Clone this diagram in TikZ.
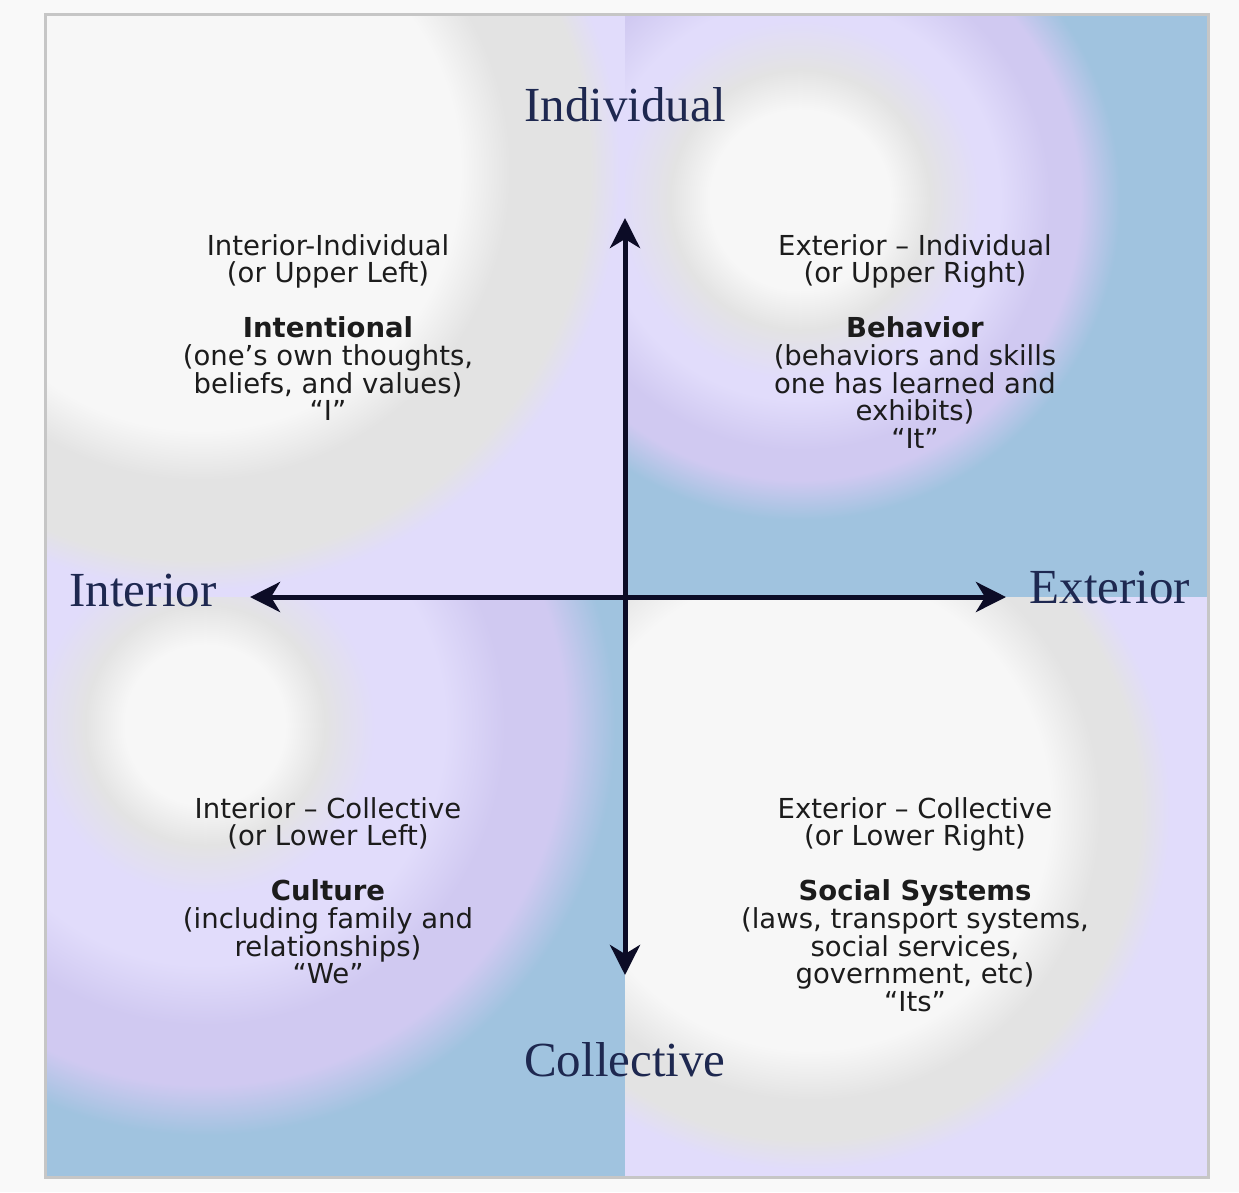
\documentclass[tikz,border=0pt]{standalone}
\usepackage{fontspec}
\setmainfont{Liberation Serif}
\newfontfamily\qfont{DejaVu Sans}
\usetikzlibrary{arrows.meta}

\definecolor{pagebg}{HTML}{F9F9F9}
\definecolor{qwhite}{HTML}{F7F7F7}
\definecolor{qgrey}{HTML}{E3E3E3}
\definecolor{qlav}{HTML}{E1DCFB}
\definecolor{qlavd}{HTML}{D0C9F1}
\definecolor{qblue}{HTML}{A0C3DF}
\definecolor{framecol}{HTML}{C6C6C6}
\definecolor{axiscol}{HTML}{0C0C26}
\definecolor{labelcol}{HTML}{1E2850}
\definecolor{txtcol}{HTML}{1C1C1C}

% shaded circles of radius 500pt: 1bp of shading = 20px
\pgfdeclareradialshading{shUL}{\pgfpointorigin}{color(0bp)=(qwhite); color(13bp)=(qwhite); color(15.5bp)=(qgrey); color(19.5bp)=(qgrey); color(21bp)=(qlav); color(50bp)=(qlav)}
\pgfdeclareradialshading{shUR}{\pgfpointorigin}{color(0bp)=(qwhite); color(4.5bp)=(qwhite); color(6.5bp)=(qgrey); color(9bp)=(qlav); color(10bp)=(qlav); color(12.5bp)=(qlavd); color(14bp)=(qlavd); color(16bp)=(qblue); color(50bp)=(qblue)}
\pgfdeclareradialshading{shLL}{\pgfpointorigin}{color(0bp)=(qwhite); color(4bp)=(qwhite); color(6bp)=(qgrey); color(8.5bp)=(qlav); color(12bp)=(qlav); color(15bp)=(qlavd); color(18bp)=(qlavd); color(20.5bp)=(qblue); color(50bp)=(qblue)}
\pgfdeclareradialshading{shLR}{\pgfpointorigin}{color(0bp)=(qwhite); color(12bp)=(qwhite); color(14.5bp)=(qgrey); color(16.5bp)=(qgrey); color(18bp)=(qlav); color(50bp)=(qlav)}

\tikzset{
  axisline/.style={draw=axiscol, line width=5pt, {Stealth[length=30pt,width=30pt,inset=9pt]}-{Stealth[length=30pt,width=30pt,inset=9pt]}},
  biglabel/.style={text=labelcol, font=\fontsize{49}{55}\selectfont, inner sep=0pt},
  quadtext/.style={text=txtcol, font=\qfont\fontsize{27.5}{27.6}\selectfont, align=center, inner sep=0pt, anchor=north},
}

\begin{document}
\begin{tikzpicture}[x=1pt,y=-1pt]
\useasboundingbox (0,0) rectangle (1239,1192);
\fill[pagebg] (0,0) rectangle (1239,1192);

% quadrant backgrounds
\begin{scope}
  \clip (45,14) rectangle (625,597);
  \fill[qlav] (45,14) rectangle (625,597);
  \shade[shading=shUL] (200,170) circle [radius=500pt];
\end{scope}
\begin{scope}
  \clip (625,14) rectangle (1208,597);
  \fill[qblue] (625,14) rectangle (1208,597);
  \shade[shading=shUR] (800,200) circle [radius=500pt];
\end{scope}
\begin{scope}
  \clip (45,597) rectangle (625,1177);
  \fill[qblue] (45,597) rectangle (625,1177);
  \shade[shading=shLL] (205,725) circle [radius=500pt];
\end{scope}
\begin{scope}
  \clip (625,597) rectangle (1208,1177);
  \fill[qlav] (625,597) rectangle (1208,1177);
  \shade[shading=shLR] (810,810) circle [radius=500pt];
\end{scope}
\draw[framecol, line width=3pt] (45,14) rectangle (1208,1177);

% axes
\coordinate (top) at (625,218);
\coordinate (bot) at (625,975);
\coordinate (lft) at (250,597);
\coordinate (rgt) at (1006,597);
\draw[axisline] (bot) -- (top);
\draw[axisline] (lft) -- (rgt);

% axis labels
\node[biglabel] (ind) at (625,105) {Individual};
\node[biglabel] (col) at (625,1060) {Collective};
\node[biglabel] (int) at (143,591) {Interior};
\node[biglabel] (ext) at (1110,588) {Exterior};

% quadrant texts
\node[quadtext] (ul) at (328,234) {Interior-Individual\\(or Upper Left)\\[27.6pt]\textbf{Intentional}\\(one’s own thoughts,\\beliefs, and values)\\“I”};
\node[quadtext] (ur) at (915,234) {Exterior – Individual\\(or Upper Right)\\[27.6pt]\textbf{Behavior}\\(behaviors and skills\\one has learned and\\exhibits)\\“It”};
\node[quadtext] (ll) at (328,797) {Interior – Collective\\(or Lower Left)\\[27.6pt]\textbf{Culture}\\(including family and\\relationships)\\“We”};
\node[quadtext] (lr) at (915,797) {Exterior – Collective\\(or Lower Right)\\[27.6pt]\textbf{Social Systems}\\(laws, transport systems,\\social services,\\government, etc)\\“Its”};
\end{tikzpicture}
\end{document}
